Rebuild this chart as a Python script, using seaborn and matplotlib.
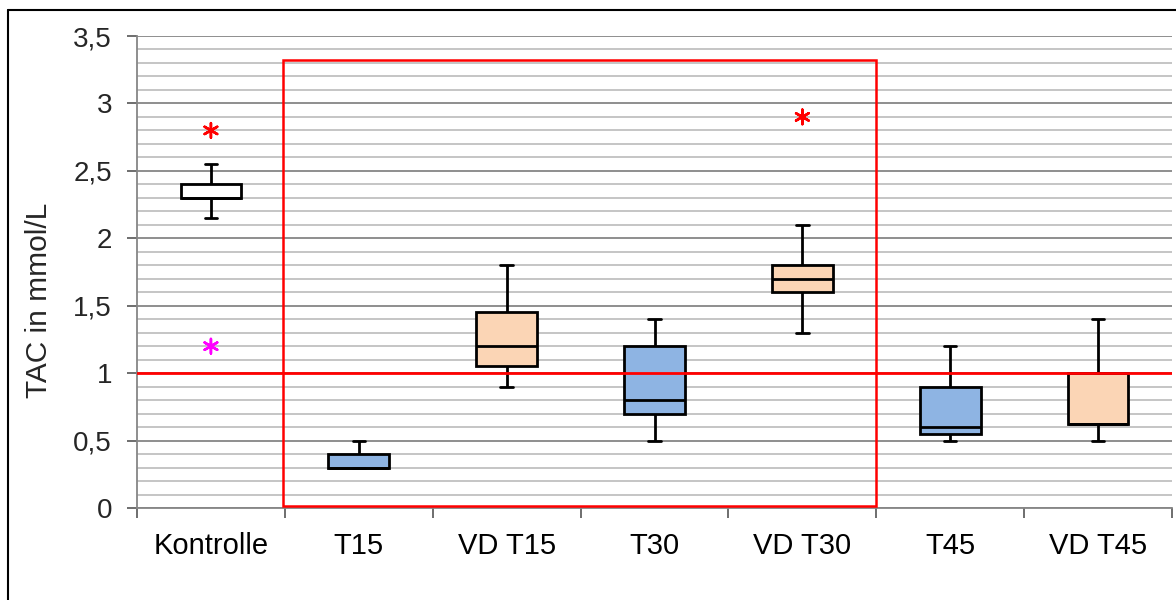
import numpy as np
import pandas as pd
import matplotlib
matplotlib.use("Agg")
import matplotlib.pyplot as plt
from matplotlib.ticker import FixedLocator, MultipleLocator, FuncFormatter
from matplotlib.patches import Rectangle
from matplotlib.lines import Line2D
import seaborn as sns

# ---- data ----
categories = ["Kontrolle", "T15", "VD T15", "T30", "VD T30", "T45", "VD T45"]
whisker_low = [2.15, 0.30, 0.90, 0.50, 1.30, 0.50, 0.50]
q1_values = [2.30, 0.30, 1.05, 0.70, 1.60, 0.55, 0.62]
medians = [2.30, 0.30, 1.20, 0.80, 1.70, 0.60, 0.62]
q3_values = [2.40, 0.40, 1.45, 1.20, 1.80, 0.90, 1.00]
whisker_high = [2.55, 0.50, 1.80, 1.40, 2.10, 1.20, 1.40]
box_colors = ["#FFFFFF", "#8EB4E3", "#FBD5B5", "#8EB4E3", "#FBD5B5", "#8EB4E3", "#FBD5B5"]

outlier_groups = ["Kontrolle", "Kontrolle", "VD T30"]
outlier_values = [2.80, 1.20, 2.90]
outlier_colors = ["#FF0000", "#FF00FF", "#FF0000"]

reference_level = 1.0
y_label = "TAC in mmol/L"
y_ticks = [0, 0.5, 1, 1.5, 2, 2.5, 3, 3.5]

# long table: five summary values per group reproduce the box exactly
rows = []
for g, a, b, c, d, e in zip(categories, whisker_low, q1_values, medians, q3_values, whisker_high):
    for v in (a, b, c, d, e):
        rows.append({"group": g, "value": v})
df = pd.DataFrame(rows)

sns.set_style("white")
plt.rcParams["font.family"] = ["Liberation Sans", "DejaVu Sans"]

fig = plt.figure(figsize=(11.76, 6.0), dpi=100)
ax = fig.add_axes([137 / 1176, 1 - 508 / 600, (1172 - 137) / 1176, (508 - 36) / 600])

sns.boxplot(
    data=df, x="group", y="value", hue="group", order=categories, hue_order=categories,
    palette=dict(zip(categories, box_colors)), saturation=1, dodge=False, legend=False,
    width=0.41, whis=np.inf, showfliers=False, linecolor="black", linewidth=2.0,
    capwidths=0.085, ax=ax, zorder=3,
)

# outliers
xpos = [categories.index(g) for g in outlier_groups]
ax.scatter(xpos, outlier_values, marker=(6, 2, 0), s=110, c=outlier_colors,
           linewidths=1.8, zorder=5)

# reference line and highlight rectangle
ax.axhline(reference_level, color="#FF0000", lw=2.0, zorder=4)
ax.add_patch(Rectangle((0.49, 0.015), 4.01, 3.305, fill=False, edgecolor="#FF0000",
                       lw=1.8, zorder=4, clip_on=False))

# axes
ax.set_xlim(-0.5, len(categories) - 0.5)
ax.set_ylim(0, 3.5)
ax.set_yticks(y_ticks)
ax.yaxis.set_minor_locator(MultipleLocator(0.1))
ax.yaxis.set_major_formatter(FuncFormatter(lambda v, p: f"{v:g}".replace(".", ",")))
ax.set_axisbelow(True)
ax.grid(which="minor", axis="y", color="#C0C0C0", lw=1.3, zorder=0)
ax.grid(which="major", axis="y", color="#868686", lw=1.3, zorder=0)
ax.grid(which="both", axis="x", visible=False)

ax.xaxis.set_major_locator(FixedLocator(range(len(categories))))
ax.set_xticklabels(categories)
ax.xaxis.set_minor_locator(FixedLocator([i - 0.5 for i in range(len(categories) + 1)]))
ax.tick_params(axis="x", which="major", length=0, pad=17, labelsize=21, colors="black")
ax.tick_params(axis="x", which="minor", length=7, width=1.2, color="#555555", direction="out", bottom=True)
ax.tick_params(axis="y", which="major", length=7, width=1.2, color="#555555", direction="out",
               left=True, pad=11, labelsize=20)
ax.tick_params(axis="y", which="minor", length=0)

for s in ["top", "right"]:
    ax.spines[s].set_visible(False)
for s in ["left", "bottom"]:
    ax.spines[s].set_color("#868686")
    ax.spines[s].set_linewidth(1.3)

ax.set_xlabel("")
ax.set_ylabel(y_label, fontsize=21.5)
ax.yaxis.set_label_coords(-0.081, 0.44)

# outer chart border (only left and top visible in the crop)
fig.add_artist(Line2D([7.5 / 1176, 7.5 / 1176], [0, 1 - 9.5 / 600], color="black", lw=1.5))
fig.add_artist(Line2D([7.5 / 1176, 1], [1 - 9.5 / 600, 1 - 9.5 / 600], color="black", lw=1.5))

fig.savefig("out.png", dpi=100, facecolor="white")
